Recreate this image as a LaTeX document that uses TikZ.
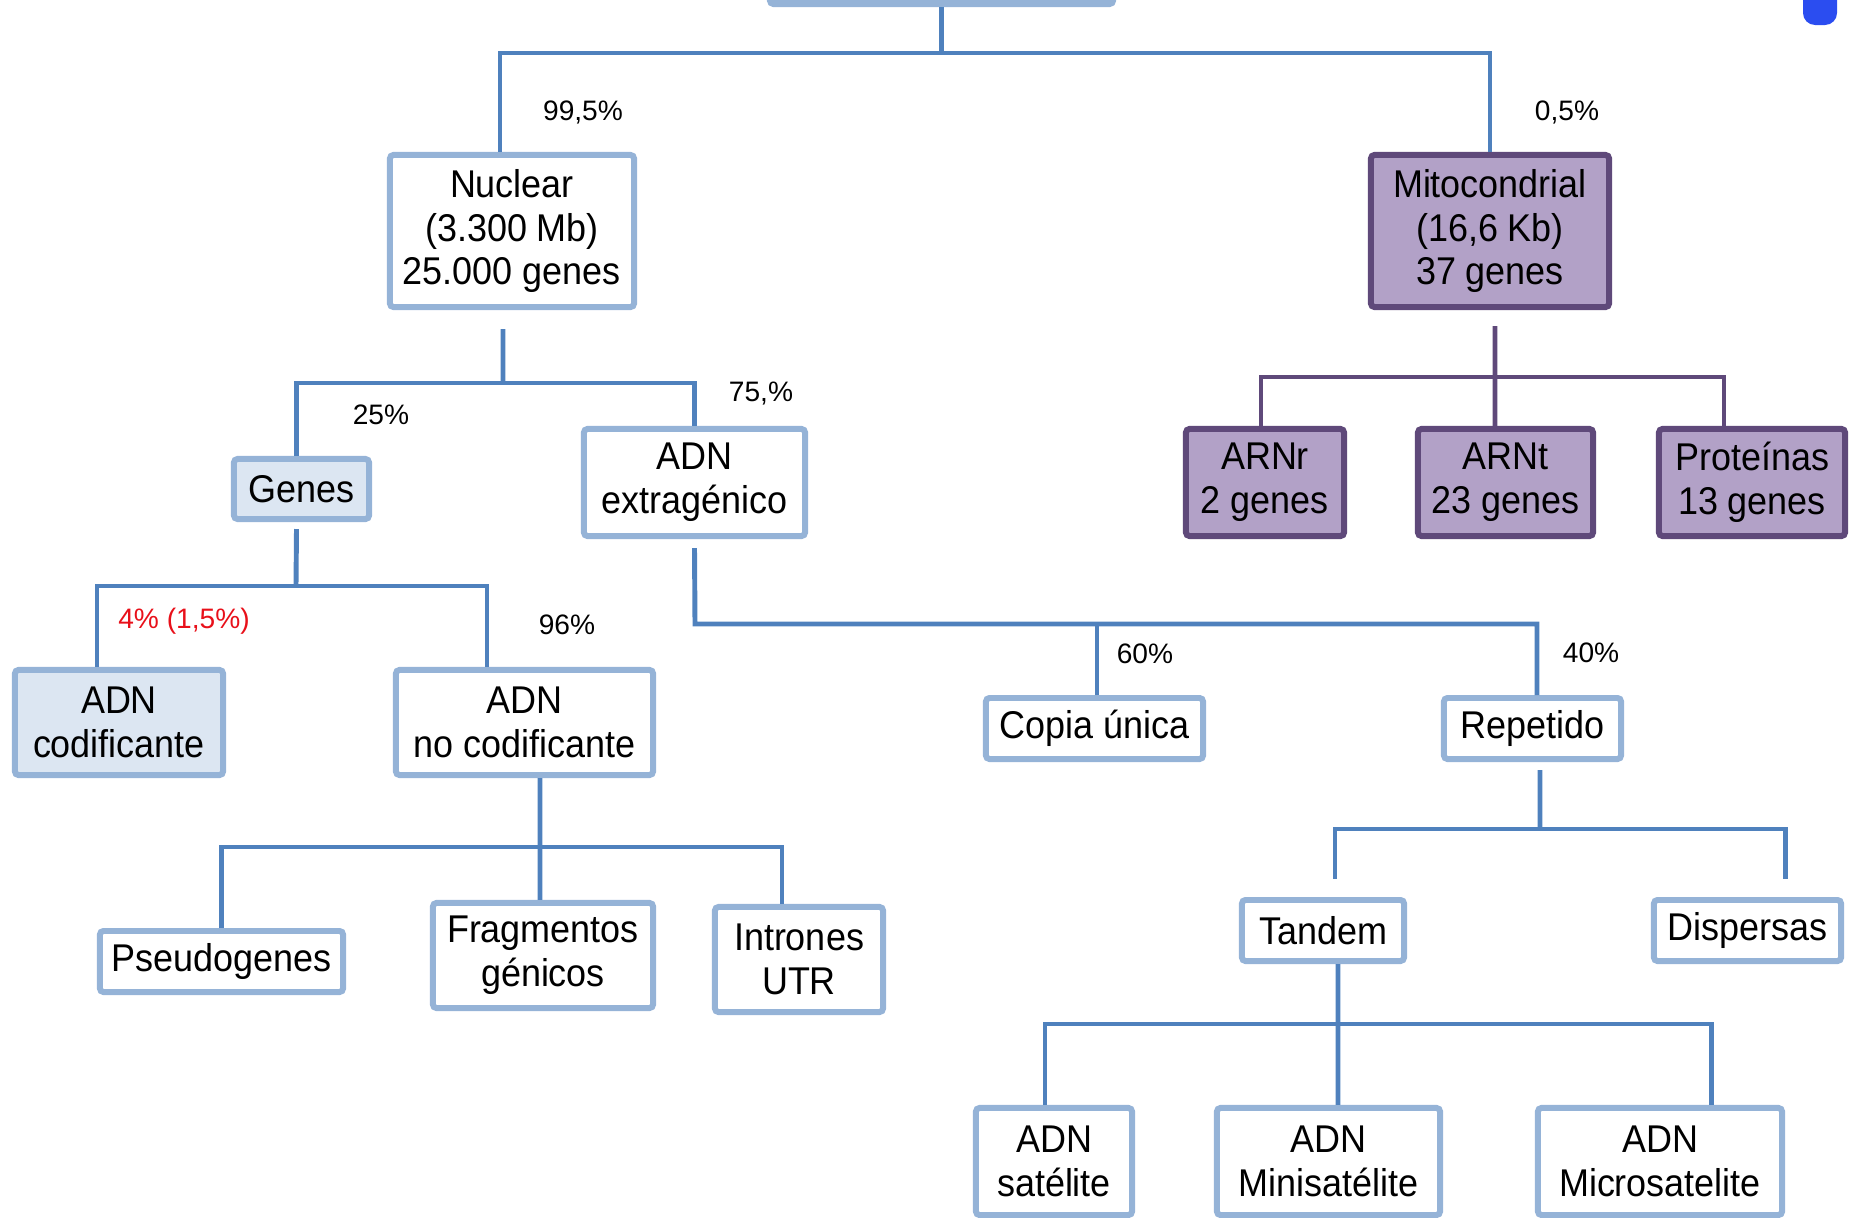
\documentclass[tikz,border=0pt]{standalone}
\usepackage{fontspec}
\setmainfont{Liberation Sans}
\newfontfamily\boxfont[FakeStretch=0.93]{Liberation Sans}
\usepackage{xcolor}
\usetikzlibrary{positioning}
\definecolor{boxline}{HTML}{95B3D7}
\definecolor{boxfill}{HTML}{DCE6F2}
\definecolor{treeline}{HTML}{4F81BD}
\definecolor{mitofill}{HTML}{B2A1C7}
\definecolor{mitoline}{HTML}{5F497A}
\definecolor{pctred}{HTML}{E8101A}
\definecolor{blobblue}{HTML}{2B4DF0}

\begin{document}
\begin{tikzpicture}[x=0.01cm,y=-0.01cm,
    box/.style={draw=boxline, line width=1.7pt, fill=white, rounded corners=1pt,
      align=center, inner sep=0pt, font=\boxfont\fontsize{11}{12.5}\selectfont},
    lightbox/.style={box, fill=boxfill},
    mitobox/.style={box, draw=mitoline, fill=mitofill},
    pct/.style={font=\fontsize{8}{9.6}\selectfont},
    conn/.style={draw=treeline, line width=1.4pt},
    mconn/.style={conn, draw=mitoline}]
  \useasboundingbox (0,0) rectangle (1857,1218);
  \clip (0,0) rectangle (1857,1218);

  \fill[blobblue, rounded corners=0.12cm] (1803,-20) rectangle (1837,25);

  % boxes
  \node[box, fill=boxline, minimum width=3.43cm, minimum height=0.60cm] (top) at (941.5,-26) {};
  \node[box, minimum width=2.44cm, minimum height=1.52cm] (nuclear) at (512,231) {Nuclear\\(3.300 Mb)\\25.000 genes};
  \node[mitobox, minimum width=2.38cm, minimum height=1.52cm] (mito) at (1490,231) {Mitocondrial\\(16,6 Kb)\\37 genes};

  \node[lightbox, minimum width=1.35cm, minimum height=0.60cm] (genes) at (301.5,489) {Genes};
  \node[box, minimum width=2.21cm, minimum height=1.07cm] (extra) at (694.5,482.5) {ADN\\extragénico};

  \node[mitobox, minimum width=1.58cm, minimum height=1.07cm] (arnr) at (1265,482.5) {ARNr\\2 genes};
  \node[mitobox, minimum width=1.75cm, minimum height=1.07cm] (arnt) at (1505.5,482.5) {ARNt\\23 genes};
  \node[mitobox, minimum width=1.86cm, minimum height=1.07cm] (prot) at (1752,482.5) {Proteínas\\13 genes};

  \node[lightbox, minimum width=2.08cm, minimum height=1.05cm] (cod) at (119,722.5) {ADN\\codificante};
  \node[box, minimum width=2.57cm, minimum height=1.05cm] (nocod) at (524.5,722.5) {ADN\\no codificante};

  \node[box, minimum width=2.43cm, minimum height=0.61cm] (pseudo) at (221.5,961.5) {Pseudogenes};
  \node[box, minimum width=2.20cm, minimum height=1.05cm] (frag) at (543,955.5) {Fragmentos\\génicos};
  \node[box, minimum width=1.68cm, minimum height=1.05cm] (intr) at (799,959.5) {Intrones\\UTR};

  \node[box, minimum width=2.17cm, minimum height=0.61cm] (copia) at (1094.5,728.5) {Copia única};
  \node[box, minimum width=1.77cm, minimum height=0.61cm] (repet) at (1532.5,728.5) {Repetido};

  \node[box, minimum width=1.62cm, minimum height=0.61cm] (tandem) at (1323,930.5) {Tandem};
  \node[box, minimum width=1.87cm, minimum height=0.61cm] (disp) at (1747.5,930.5) {Dispersas};

  \node[box, minimum width=1.56cm, minimum height=1.07cm] (sat) at (1054,1161.5) {ADN\\satélite};
  \node[box, minimum width=2.23cm, minimum height=1.07cm] (mini) at (1328.5,1161.5) {ADN\\Minisatélite};
  \node[box, minimum width=2.44cm, minimum height=1.07cm] (micro) at (1660,1161.5) {ADN\\Microsatelite};

  % percentages
  \node[pct] (p995) at (583,112) {99,5\%};
  \node[pct] (p05) at (1567,112) {0,5\%};
  \node[pct] (p25) at (381,415) {25\%};
  \node[pct] (p75) at (761,394) {75,\%};
  \node[pct, text=pctred] (p4) at (184,621) {4\% (1,5\%)};
  \node[pct] (p96) at (567,625) {96\%};
  \node[pct] (p60) at (1145,654) {60\%};
  \node[pct] (p40) at (1591,653) {40\%};

  % tree lines
  \coordinate (b0) at (940,53);
  \draw[conn] (top.south) -- (top.south |- b0);
  \draw[conn] ([xshift=-0.12cm]nuclear.north) |- (b0) -| (mito.north);

  \coordinate (b1) at (503,383);
  \draw[conn] ([xshift=-0.09cm,yshift=-0.19cm]nuclear.south) -- (b1);
  \draw[conn] ([xshift=-0.05cm]genes.north) |- (b1) -| (extra.north);

  \coordinate (b2) at (296,586);
  \draw[conn] ([xshift=-0.05cm,yshift=-0.07cm]genes.south) -- (b2);
  \draw[conn] ([xshift=-0.22cm]cod.north) |- (b2) -| ([xshift=-0.375cm]nocod.north);

  \coordinate (b3) at (540,847);
  \draw[conn] ([xshift=0.155cm]nocod.south) -- (b3);
  \draw[conn] (pseudo.north) |- (b3) -| ([xshift=-0.17cm]intr.north);
  \draw[conn] (b3) -- ([xshift=-0.03cm]frag.north);

  \coordinate (b4) at (695,624);
  \draw[conn] ([yshift=-0.09cm]extra.south) -- (b4) -| ([xshift=0.045cm]repet.north);
  \draw[conn] ([xshift=0.025cm]copia.north) -- ([xshift=0.025cm]copia.north |- b4);

  \coordinate (b5) at (1540,829);
  \draw[conn] ([xshift=0.075cm,yshift=-0.08cm]repet.south) -- (b5);
  \draw[conn] ([xshift=0.12cm,yshift=0.18cm]tandem.north) |- (b5) -| ([xshift=0.375cm,yshift=0.18cm]disp.north);

  \coordinate (b6) at (1338,1024);
  \draw[conn] ([xshift=0.15cm]tandem.south) -- (b6);
  \draw[conn] ([xshift=-0.09cm]sat.north) |- (b6) -| ([xshift=0.51cm]micro.north);
  \draw[conn] (b6) -- ([xshift=0.095cm]mini.north);

  \coordinate (b7) at (1495,377);
  \draw[mconn] ([xshift=0.05cm,yshift=-0.16cm]mito.south) -- (b7);
  \draw[mconn] ([xshift=-0.04cm]arnr.north) |- (b7) -| ([xshift=-0.28cm]prot.north);
  \draw[mconn] (b7) -- ([xshift=-0.105cm]arnt.north);
\end{tikzpicture}
\end{document}
